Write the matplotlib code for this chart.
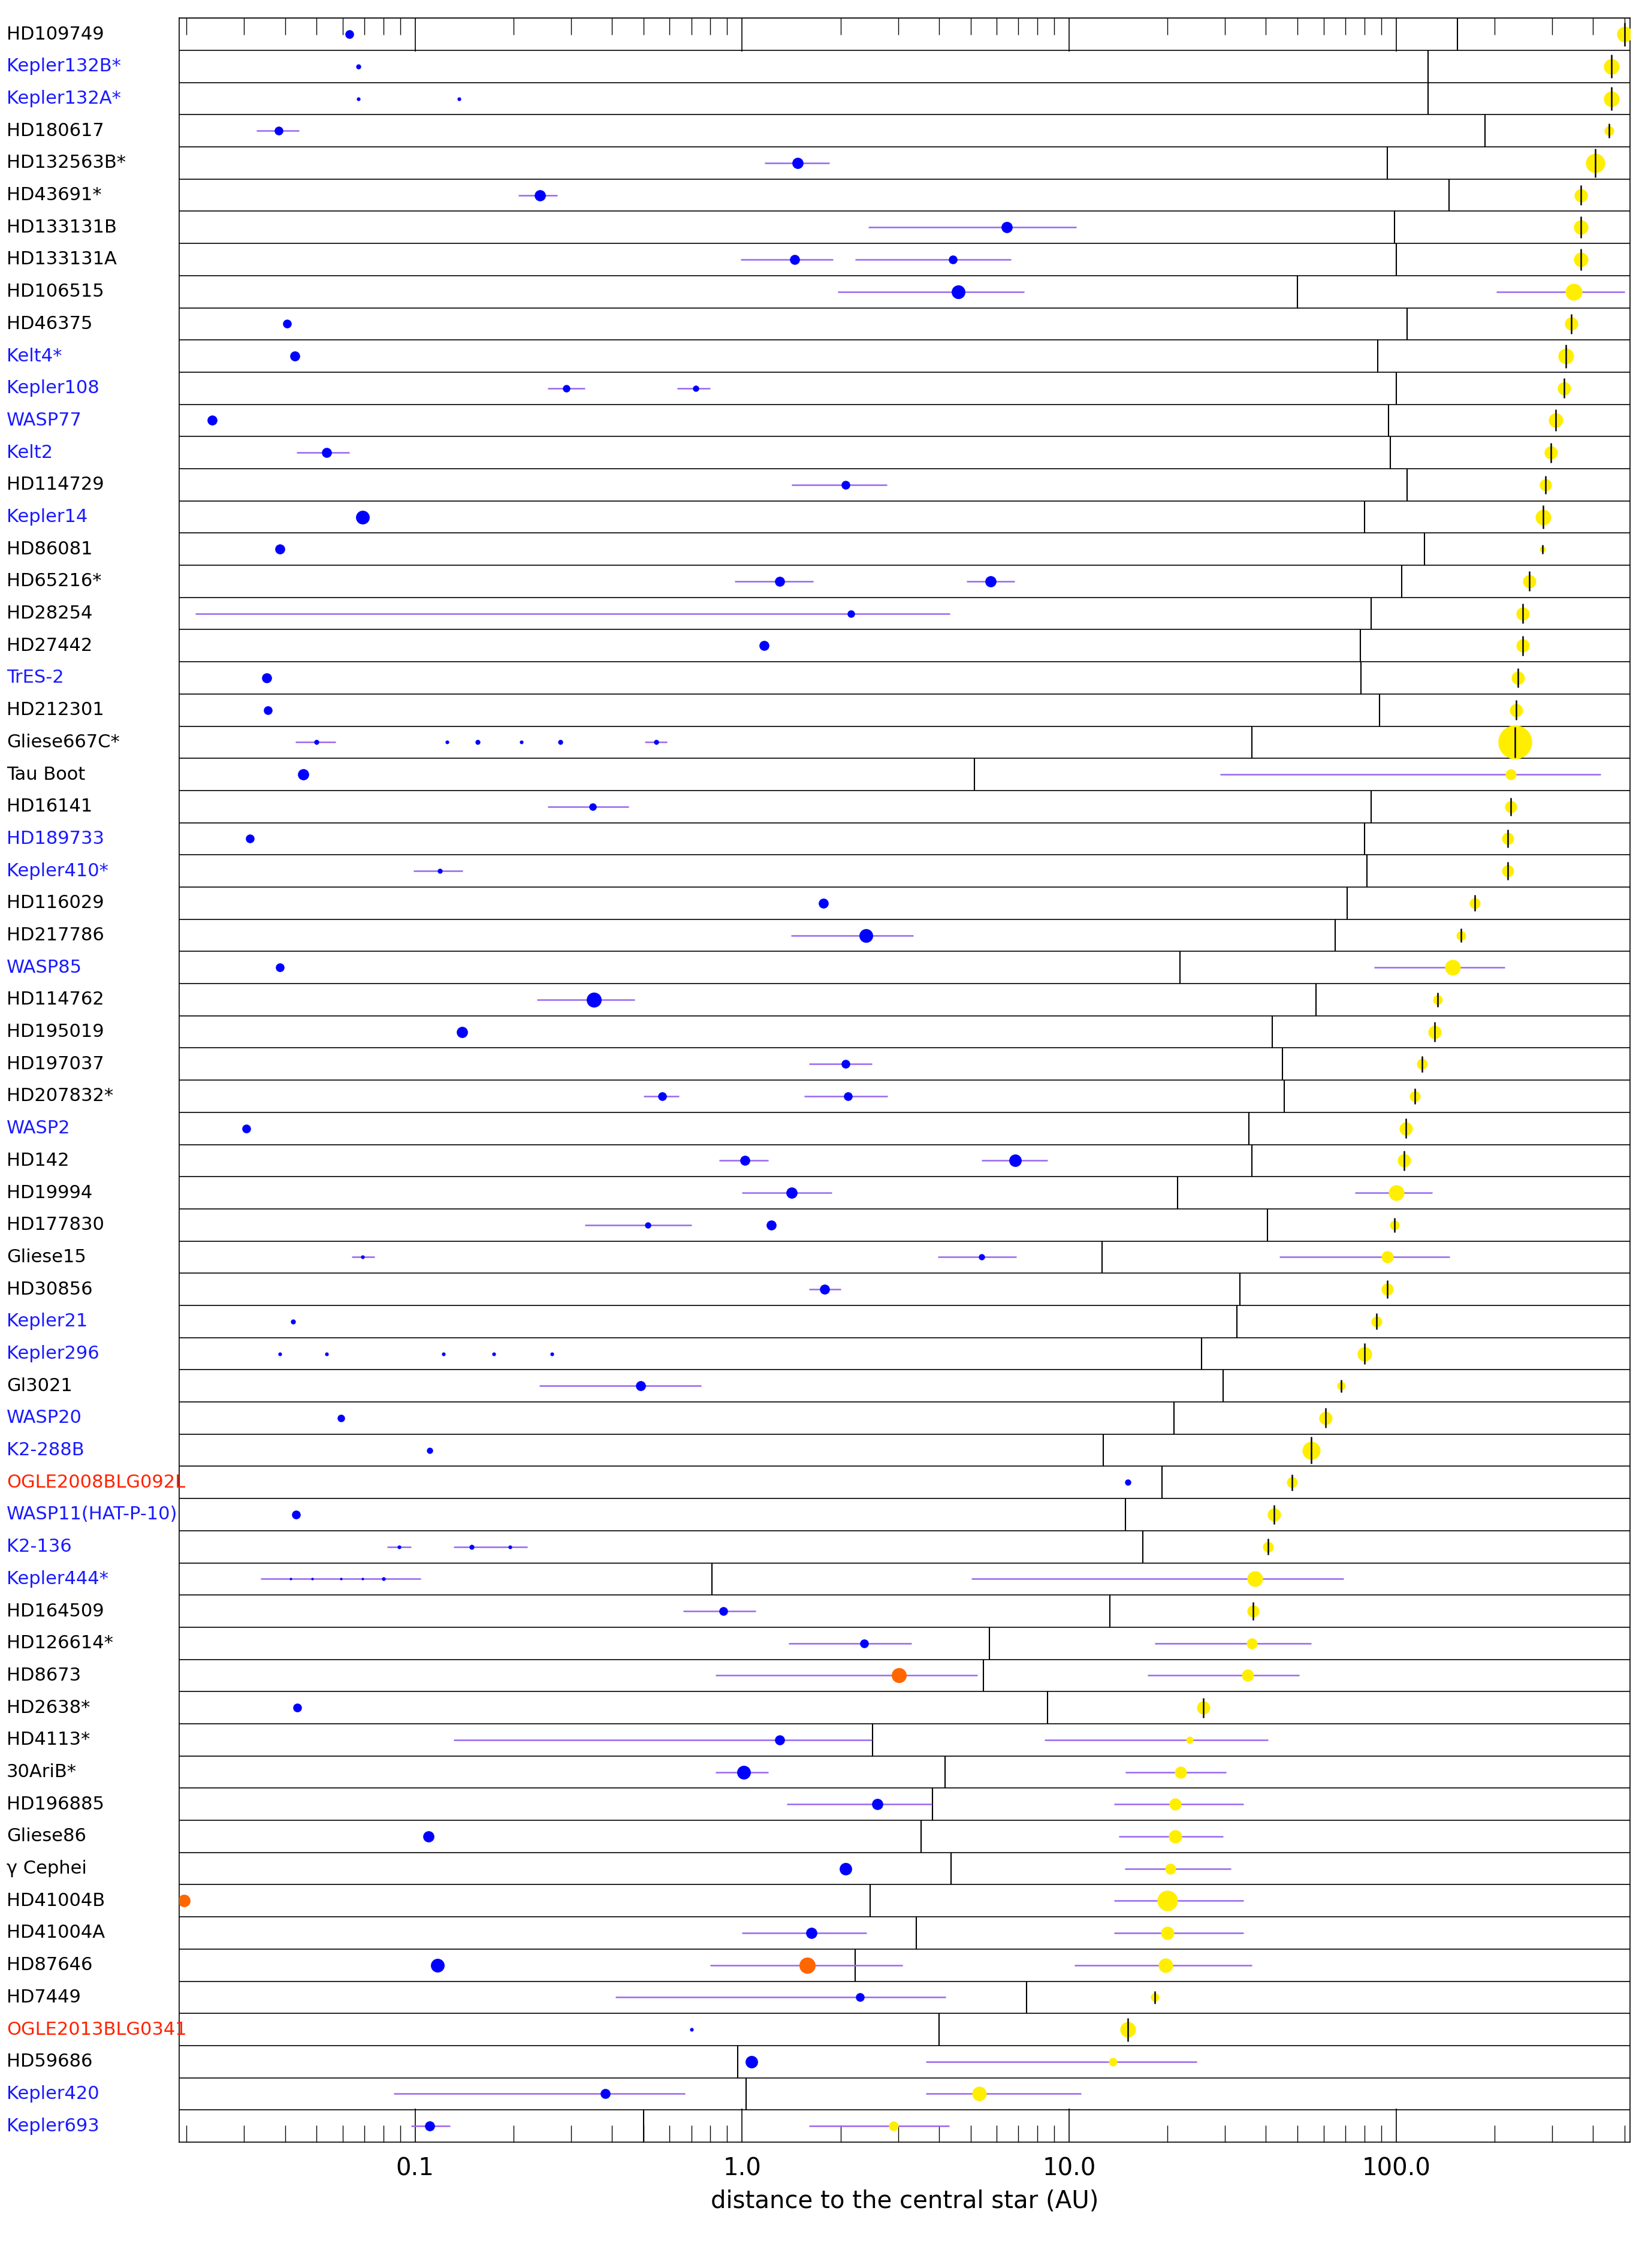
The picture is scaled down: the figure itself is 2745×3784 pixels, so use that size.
import matplotlib
matplotlib.use("Agg")
import matplotlib.pyplot as plt
import matplotlib.transforms as mtransforms

names = ["HD109749","Kepler132B*","Kepler132A*","HD180617","HD132563B*","HD43691*","HD133131B","HD133131A",
"HD106515","HD46375","Kelt4*","Kepler108","WASP77","Kelt2","HD114729","Kepler14","HD86081","HD65216*",
"HD28254","HD27442","TrES-2","HD212301","Gliese667C*","Tau Boot","HD16141","HD189733","Kepler410*",
"HD116029","HD217786","WASP85","HD114762","HD195019","HD197037","HD207832*","WASP2","HD142","HD19994",
"HD177830","Gliese15","HD30856","Kepler21","Kepler296","Gl3021","WASP20","K2-288B","OGLE2008BLG092L",
"WASP11(HAT-P-10)","K2-136","Kepler444*","HD164509","HD126614*","HD8673","HD2638*","HD4113*","30AriB*",
"HD196885","Gliese86","γ Cephei","HD41004B","HD41004A","HD87646","HD7449","OGLE2013BLG0341","HD59686",
"Kepler420","Kepler693"]
# label colour code: k black, b blue, r red
name_colors = list("kbbkkkkkkkbbbbkbkkkkbkkkkbbkkbkkkkbkkkkkbbkbbrbbbkkkkkkkkkkkkkrkbb")

divider = [154,125,125,187,94,145,99,100,49.9,108,88,100,95,96,108,80,122,104,84,77.7,78,89,36.2,5.14,84,80,81.6,
71,65,21.8,56.9,41.8,45,45.5,35.4,36.2,21.5,40.5,12.6,33.3,32.6,25.4,29.6,20.9,12.7,19.2,14.9,16.8,0.807,13.3,
5.7,5.47,8.58,2.51,4.18,3.82,3.52,4.36,2.46,3.41,2.22,7.41,4.01,0.97,1.03,0.499]

star_x = [499,455,455,448,406,367,367,367,349,343,331,326,308,298,287,282,280,256,244,244,236,233,231,224,224,220,220,
174,158,149,134,131,120,114,107,106,100,99,94,94,87,80,68,61,55,48,42.3,40.6,37,36.6,36.3,35.2,25.7,23.4,21.9,
21.1,21.1,20.4,20,20,19.7,18.3,15.1,13.6,5.3,2.9]
star_lo = [None]*8 + [203] + [None]*14 + [29] + [None]*5 + [85.7] + [None]*6 + [75, None, 44] + [None]*9 + \
          [5.03, None, 18.3, 17.4, None, 8.4, 14.9, 13.7, 14.2, 14.8, 13.7, 13.7, 10.4, None, None, 3.64, 3.64, 1.6]
star_hi = [None]*8 + [499] + [None]*14 + [422] + [None]*5 + [215] + [None]*6 + [129, None, 146] + [None]*9 + \
          [69, None, 55, 50.5, None, 40.6, 30.2, 34.2, 29.6, 31.3, 34.2, 34.2, 36.3, None, None, 24.6, 10.9, 4.3]
star_size = [13,13,13,8,16,11,12,12,14,11,13,11,12,11,10,13,5,11,11,11,11,11,28,9,10,10,10,
9,8,13,8,11,9,9,11,11,13,8,10,10,9,12,7,11,15,9,11,9,13,10,9,10,11,6,10,10,11,9,17,11,12,7,13,7,12,8]

# planets per row: (distance AU, err low, err high, marker size, kind) kind b=blue, o=orange
planets = [
 [(0.063,None,None,7,'b')],
 [(0.067,None,None,4,'b')],
 [(0.067,None,None,3,'b'),(0.136,None,None,3,'b')],
 [(0.0382,0.0327,0.0442,7,'b')],
 [(1.48,1.17,1.85,9,'b')],
 [(0.241,0.207,0.272,9,'b')],
 [(6.44,2.43,10.5,9,'b')],
 [(1.45,0.99,1.9,8,'b'),(4.41,2.22,6.63,7,'b')],
 [(4.59,1.96,7.28,11,'b')],
 [(0.0406,None,None,7,'b')],
 [(0.0428,None,None,8,'b')],
 [(0.29,0.254,0.33,6,'b'),(0.721,0.632,0.8,5,'b')],
 [(0.0239,None,None,8,'b')],
 [(0.0536,0.0435,0.063,8,'b')],
 [(2.07,1.42,2.77,7,'b')],
 [(0.0692,None,None,11,'b')],
 [(0.0386,None,None,8,'b')],
 [(1.30,0.95,1.65,8,'b'),(5.75,4.85,6.8,9,'b')],
 [(2.15,0.0213,4.32,6,'b')],
 [(1.166,None,None,8,'b')],
 [(0.0351,None,None,8,'b')],
 [(0.0355,None,None,7,'b')],
 [(0.05,0.043,0.057,4,'b'),(0.125,None,None,3,'b'),(0.155,None,None,4,'b'),(0.211,None,None,3,'b'),
  (0.278,None,None,4,'b'),(0.547,0.505,0.59,4,'b')],
 [(0.0455,None,None,9,'b')],
 [(0.349,0.254,0.45,6,'b')],
 [(0.0312,None,None,7,'b')],
 [(0.119,0.099,0.14,4,'b')],
 [(1.77,None,None,8,'b')],
 [(2.39,1.41,3.34,11,'b')],
 [(0.0386,None,None,7,'b')],
 [(0.352,0.236,0.47,12,'b')],
 [(0.139,None,None,9,'b')],
 [(2.07,1.6,2.5,7,'b')],
 [(0.57,0.5,0.64,7,'b'),(2.11,1.55,2.78,7,'b')],
 [(0.0305,None,None,7,'b')],
 [(1.02,0.85,1.2,8,'b'),(6.84,5.4,8.6,10,'b')],
 [(1.42,1.0,1.88,9,'b')],
 [(0.514,0.33,0.7,5,'b'),(1.23,None,None,8,'b')],
 [(0.0692,0.064,0.075,3,'b'),(5.41,3.97,6.9,5,'b')],
 [(1.79,1.6,2.0,8,'b')],
 [(0.0424,None,None,4,'b')],
 [(0.0386,None,None,3,'b'),(0.0536,None,None,3,'b'),(0.122,None,None,3,'b'),(0.174,None,None,3,'b'),
  (0.262,None,None,3,'b')],
 [(0.489,0.24,0.75,8,'b')],
 [(0.0593,None,None,6,'b')],
 [(0.111,None,None,5,'b')],
 [(15.1,None,None,5,'b')],
 [(0.0433,None,None,7,'b')],
 [(0.0894,0.082,0.097,3,'b'),(0.149,0.131,0.22,4,'b'),(0.195,None,None,3,'b')],
 [(0.0416,0.0337,0.104,2,'b'),(0.0484,None,None,2,'b'),(0.0593,None,None,2,'b'),(0.0692,None,None,2,'b'),
  (0.0801,None,None,3,'b')],
 [(0.875,0.66,1.1,7,'b')],
 [(2.36,1.39,3.3,7,'b')],
 [(3.02,0.83,5.24,12,'o')],
 [(0.0436,None,None,7,'b')],
 [(1.30,0.131,2.49,8,'b')],
 [(1.01,0.83,1.2,11,'b')],
 [(2.59,1.37,3.8,9,'b')],
 [(0.11,None,None,9,'b')],
 [(2.07,None,None,10,'b')],
 [(0.0196,None,None,10,'o')],
 [(1.63,1.0,2.4,9,'b')],
 [(0.117,None,None,11,'b'),(1.58,0.8,3.1,13,'o')],
 [(2.29,0.41,4.2,7,'b')],
 [(0.699,None,None,3,'b')],
 [(1.07,None,None,10,'b')],
 [(0.382,0.086,0.67,8,'b'),],
 [(0.111,0.097,0.128,8,'b')],
]

W, H = 2745, 3784
fig = plt.figure(figsize=(W/100, H/100), dpi=100)
ax = fig.add_axes([0.109, 0.0555, 0.882, 0.9365])
n = len(names)
ax.set_xscale('log')
ax.set_xlim(0.019, 520)
ax.set_ylim(n, 0)

purple = '#9966ee'
blue = '#0000ff'
orange = '#ff6600'
yellow = '#ffee00'
lw_err = 1.8
PS = 1.5   # planet marker scale
SS = 1.45  # star marker scale

for i in range(n):
    yc = i + 0.5
    ax.axhline(i, color='k', lw=1.2, zorder=1)
    ax.vlines(divider[i], i, i + 1, color='k', lw=1.5, zorder=1)
    ms_s = star_size[i] * SS
    if star_lo[i] is not None:
        ax.hlines(yc, star_lo[i], star_hi[i], color=purple, lw=lw_err, zorder=2)
    ax.plot(star_x[i], yc, 'o', ms=ms_s, color=yellow, mec='none', zorder=3, clip_on=True)
    if star_lo[i] is None:
        h = min(0.47, ms_s / 52.0)
        ax.vlines(star_x[i], yc - h, yc + h, color='k', lw=1.8, zorder=4)
    for (x, lo, hi, ms, kind) in planets[i]:
        if lo is not None:
            ax.hlines(yc, lo, hi, color=purple, lw=lw_err, zorder=2)
        ax.plot(x, yc, 'o', ms=ms * PS, color=(orange if kind == 'o' else blue), mec='none', zorder=3)
    tr = mtransforms.blended_transform_factory(fig.transFigure, ax.transData)
    col = {'k': 'black', 'b': '#1a1aff', 'r': '#ff2200'}[name_colors[i]]
    ax.text(0.004, yc, names[i], transform=tr, ha='left', va='center', fontsize=22, color=col)

ax.set_yticks([])
ax.tick_params(axis='x', which='both', direction='in', top=True, bottom=True, labelsize=29, pad=18)
ax.tick_params(axis='x', which='major', length=40, width=1.2)
ax.tick_params(axis='x', which='minor', length=20, width=1.0)
ax.set_xticks([0.1, 1, 10, 100])
ax.set_xticklabels(["0.1", "1.0", "10.0", "100.0"])
ax.set_xlabel("distance to the central star (AU)", fontsize=29, labelpad=10)
for s in ax.spines.values():
    s.set_linewidth(1.2)

fig.savefig("out.png", dpi=100)
